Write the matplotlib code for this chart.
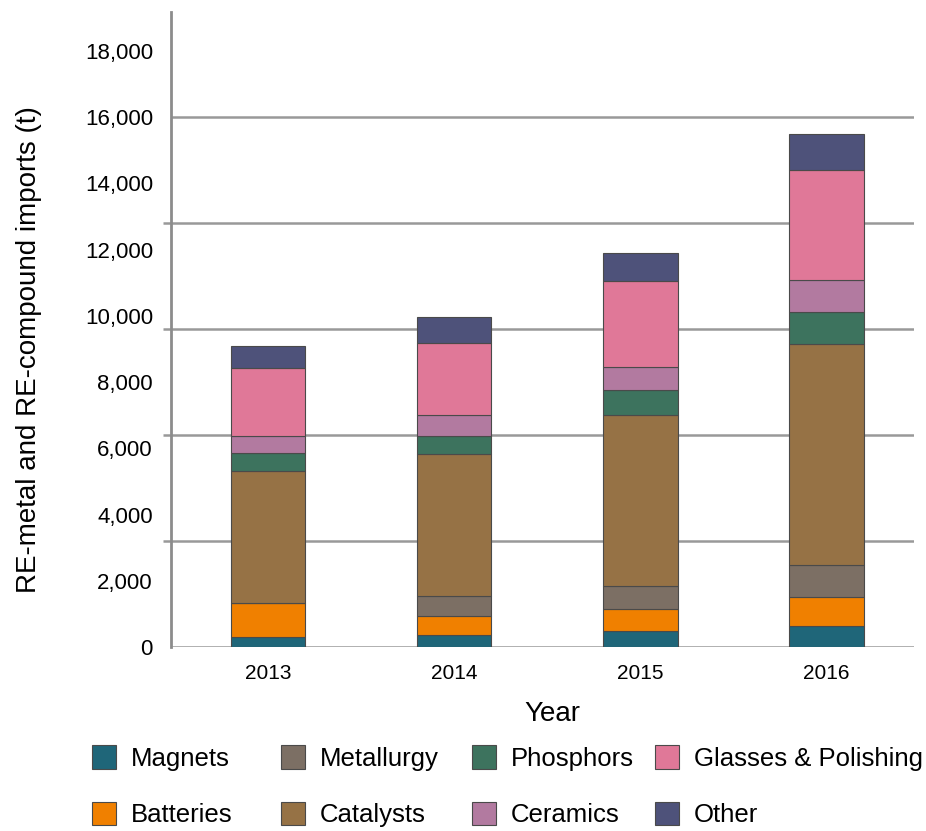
import matplotlib
matplotlib.use("Agg")
import matplotlib.pyplot as plt
import numpy as np

plt.rcParams['font.family'] = ['Liberation Sans', 'DejaVu Sans']

years = ["2013", "2014", "2015", "2016"]
categories = ["Magnets", "Batteries", "Metallurgy", "Catalysts",
              "Phosphors", "Ceramics", "Glasses & Polishing", "Other"]
magnets = [300, 370, 477, 620]
batteries = [1025, 565, 685, 880]
metallurgy = [0, 595, 685, 965]
catalysts = [3985, 4305, 5150, 6695]
phosphors = [535, 545, 768, 945]
ceramics = [513, 635, 685, 965]
glasses = [2063, 2175, 2595, 3320]
other = [664, 775, 861, 1090]
series = [magnets, batteries, metallurgy, catalysts, phosphors, ceramics, glasses, other]
colors = ["#1f6679", "#f08000", "#7c6f64", "#967245",
          "#3d735e", "#b27aa0", "#e07898", "#4e527a"]

ytick_vals = list(range(0, 18001, 2000))
grid_vals = [0, 3200, 6400, 9600, 12800, 16000]

fig = plt.figure(figsize=(9.26, 8.31), dpi=100)
ax = fig.add_axes([171/926, 1-647/831, (914-171)/926, 635/831])

x = np.arange(len(years))
bottom = np.zeros(len(years))
handles = []
for name, vals, c in zip(categories, series, colors):
    vals = np.array(vals, dtype=float)
    b = ax.bar(x, vals, width=0.40, bottom=bottom, color=c,
               edgecolor="#4a4a4a", linewidth=0.8, label=name, zorder=3)
    handles.append(b)
    bottom += vals

ax.set_xlim(-0.52, 3.47)
ax.set_ylim(0, 19170)

for g in grid_vals:
    ax.axhline(g, color="#999999", linewidth=1.8, zorder=1)

for s in ["top", "right", "bottom"]:
    ax.spines[s].set_visible(False)
ax.spines["left"].set_color("#8c8c8c")
ax.spines["left"].set_linewidth(2)

ax.set_yticks(ytick_vals)
ax.set_yticklabels([f"{v:,}" for v in ytick_vals], fontsize=16)
ax.tick_params(axis="y", which="major", length=0, pad=13)
ax.set_yticks(grid_vals, minor=True)
ax.tick_params(axis="y", which="minor", length=6, width=1.8, color="#999999")

ax.set_xticks(x)
ax.set_xticklabels(years, fontsize=15)
ax.tick_params(axis="x", length=0, pad=12)

ax.set_xlabel("Year", fontsize=20)
ax.xaxis.set_label_coords((552-171)/743, (647-701)/635)
ax.set_ylabel("RE-metal and RE-compound imports (t)", fontsize=20)
ax.yaxis.set_label_coords((42-171)/743, (647-350)/635)

# legend: four columns, each its own legend so columns sit where the reference has them
col_x = [92, 281, 472, 655]
for i, cx in enumerate(col_x):
    lg = fig.legend(handles=handles[2*i:2*i+2], labels=categories[2*i:2*i+2],
                    ncol=1, frameon=False, loc="upper left",
                    bbox_to_anchor=(cx/926, 1-745/831),
                    fontsize=18.5, handlelength=0.95, handleheight=1.05,
                    handletextpad=0.55, labelspacing=1.2,
                    borderpad=0, borderaxespad=0)

fig.savefig("out.png", dpi=100)
